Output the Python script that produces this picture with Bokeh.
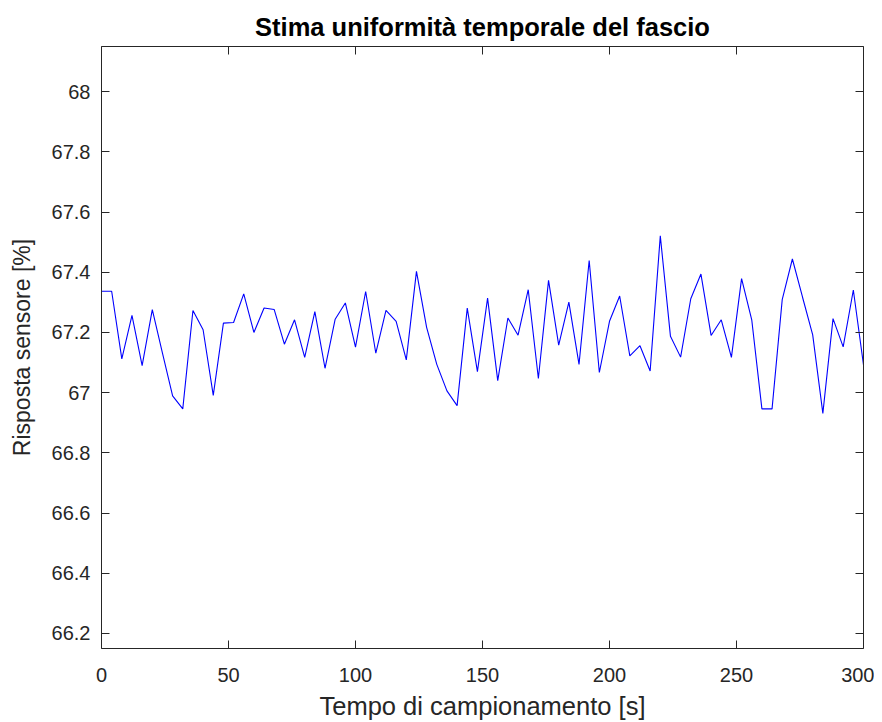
from bokeh.plotting import figure
from bokeh.models import LinearAxis, FixedTicker, Range1d
from bokeh.embed import file_html
from bokeh.resources import INLINE

# data: sampling time [s] and sensor response [%]
t_s = [0, 4, 8, 12, 16, 20, 24, 28, 32, 36, 40, 44, 48, 52, 56, 60, 64, 68, 72, 76,
       80, 84, 88, 92, 96, 100, 104, 108, 112, 116, 120, 124, 128, 132, 136, 140, 144, 148, 152,
       156, 160, 164, 168, 172, 176, 180, 184, 188, 192, 196, 200, 204, 208, 212, 216, 220, 224, 228,
       232, 236, 240, 244, 248, 252, 256, 260, 264, 268, 272, 276, 280, 284, 288, 292, 296, 300]
response = [67.337, 67.337, 67.112, 67.257, 67.090, 67.276, 67.131, 66.989, 66.946, 67.273,
            67.209, 66.991, 67.231, 67.233, 67.328, 67.200, 67.281, 67.276, 67.161, 67.242,
            67.117, 67.269, 67.081, 67.244, 67.298, 67.151, 67.336, 67.131, 67.273, 67.237,
            67.109, 67.403, 67.217, 67.094, 67.006, 66.957, 67.281, 67.070, 67.314,
            67.040, 67.248, 67.191, 67.342, 67.047, 67.373, 67.158, 67.301, 67.094, 67.439,
            67.067, 67.237, 67.321, 67.122, 67.156, 67.072, 67.521, 67.187, 67.118,
            67.312, 67.394, 67.190, 67.242, 67.117, 67.379, 67.242, 66.946, 66.946, 67.309,
            67.444, 67.317, 67.192, 66.931, 67.246, 67.152, 67.341, 67.092]

x_ticks = [0, 50, 100, 150, 200, 250, 300]
y_ticks = [66.2, 66.4, 66.6, 66.8, 67.0, 67.2, 67.4, 67.6, 67.8, 68.0]
y_tick_labels = ["66.2", "66.4", "66.6", "66.8", "67", "67.2", "67.4", "67.6", "67.8", "68"]

title_text = "Stima uniformità temporale del fascio"
x_label = "Tempo di campionamento [s]"
y_label = "Risposta sensore [%]"

FONT = "Liberation Sans"
AX = "#262626"

p = figure(output_backend="svg", toolbar_location=None,
           frame_width=762, frame_height=602,
           min_border_left=101, min_border_top=46, min_border_right=11, min_border_bottom=74,
           x_range=Range1d(0, 300), y_range=Range1d(66.15, 68.15),
           x_axis_location=None, y_axis_location=None)
p.title.text = title_text
p.title.align = "center"
p.title.text_font = FONT
p.title.text_font_size = "25.5px"
p.title.text_font_style = "bold"
p.title.text_color = "#000000"
p.title.standoff = 12
p.xgrid.grid_line_color = None
p.ygrid.grid_line_color = None
p.outline_line_color = None
p.background_fill_color = "white"
p.border_fill_color = "white"

p.line(t_s, response, line_color="#0000ff", line_width=1.1)

def style(ax, labels=True):
    ax.axis_line_color = AX
    ax.axis_line_width = 1
    ax.major_tick_line_color = AX
    ax.major_tick_in = 8
    ax.major_tick_out = 0
    ax.minor_tick_line_color = None
    ax.major_label_text_font = FONT
    ax.major_label_text_font_size = "20px"
    ax.major_label_text_color = AX
    ax.axis_label_text_font = FONT
    ax.axis_label_text_font_size = "25.5px"
    ax.axis_label_text_font_style = "normal"
    ax.axis_label_text_color = AX
    if not labels:
        ax.major_label_text_font_size = "0px"
        ax.major_label_text_alpha = 0

xb = LinearAxis(ticker=FixedTicker(ticks=x_ticks), axis_label=x_label)
style(xb)
xb.major_label_standoff = 19
xb.axis_label_standoff = 7
yl = LinearAxis(ticker=FixedTicker(ticks=y_ticks), axis_label=y_label)
style(yl)
yl.axis_label_text_font_size = "23px"
yl.major_label_overrides = {t: s for t, s in zip(y_ticks, y_tick_labels)}
yl.major_label_standoff = 11
yl.axis_label_standoff = 14
xt = LinearAxis(ticker=FixedTicker(ticks=x_ticks))
style(xt, labels=False)
yr = LinearAxis(ticker=FixedTicker(ticks=y_ticks))
style(yr, labels=False)
p.add_layout(xb, "below")
p.add_layout(yl, "left")
p.add_layout(xt, "above")
p.add_layout(yr, "right")

open("out.html", "w").write(file_html(p, INLINE))
